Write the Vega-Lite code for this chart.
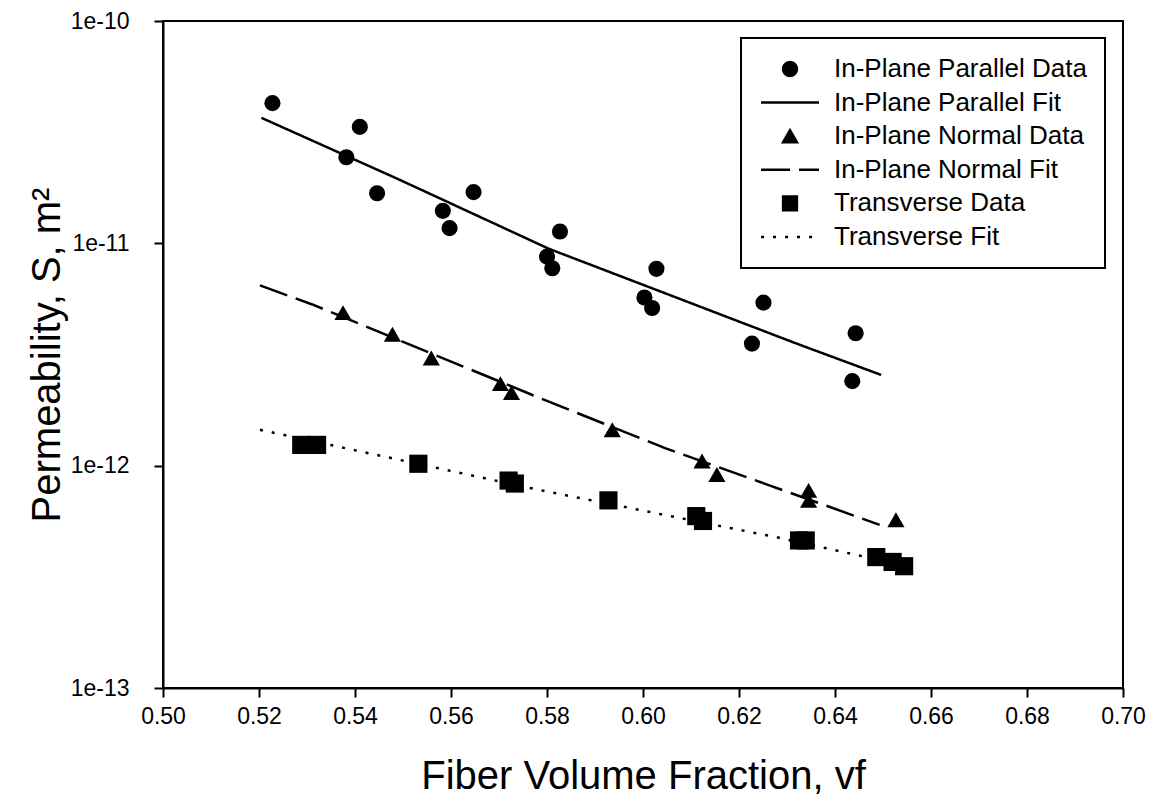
{
  "$schema": "https://vega.github.io/schema/vega-lite/v6.json",
  "width": 960,
  "height": 667,
  "autosize": {"type": "none"},
  "padding": {"left": 163, "top": 21, "right": 33, "bottom": 123},
  "background": "white",
  "config": {
    "font": "Liberation Sans",
    "view": {"stroke": "black", "strokeWidth": 2},
    "axis": {
      "domainColor": "black", "domainWidth": 2, "tickColor": "black", "tickWidth": 2, "tickSize": 9,
      "labelColor": "black", "titleColor": "black", "labelFont": "Liberation Sans", "titleFont": "Liberation Sans",
      "labelFontSize": 23, "titleFontSize": 40, "titleFontWeight": "normal", "grid": false
    },
    "legend": {
      "orient": "none", "legendX": 578, "legendY": 17,
      "strokeColor": "black", "strokeWidth": 2, "fillColor": "white", "padding": 18,
      "labelFont": "Liberation Sans", "labelFontSize": 26, "labelColor": "black", "labelLimit": 500,
      "symbolSize": 190, "symbolStrokeWidth": 2.5, "symbolStrokeColor": "black", "symbolFillColor": "black",
      "rowPadding": 7.6, "symbolOffset": 18, "labelOffset": 31
    }
  },
  "datasets": {
    "points": [
      {"x": 0.5228, "y": 4.27e-11, "series": "In-Plane Parallel Data"},
      {"x": 0.5382, "y": 2.44e-11, "series": "In-Plane Parallel Data"},
      {"x": 0.5410, "y": 3.34e-11, "series": "In-Plane Parallel Data"},
      {"x": 0.5446, "y": 1.68e-11, "series": "In-Plane Parallel Data"},
      {"x": 0.5583, "y": 1.40e-11, "series": "In-Plane Parallel Data"},
      {"x": 0.5597, "y": 1.17e-11, "series": "In-Plane Parallel Data"},
      {"x": 0.5647, "y": 1.70e-11, "series": "In-Plane Parallel Data"},
      {"x": 0.5800, "y": 8.71e-12, "series": "In-Plane Parallel Data"},
      {"x": 0.5811, "y": 7.73e-12, "series": "In-Plane Parallel Data"},
      {"x": 0.5827, "y": 1.13e-11, "series": "In-Plane Parallel Data"},
      {"x": 0.6003, "y": 5.71e-12, "series": "In-Plane Parallel Data"},
      {"x": 0.6019, "y": 5.12e-12, "series": "In-Plane Parallel Data"},
      {"x": 0.6028, "y": 7.68e-12, "series": "In-Plane Parallel Data"},
      {"x": 0.6227, "y": 3.54e-12, "series": "In-Plane Parallel Data"},
      {"x": 0.6251, "y": 5.41e-12, "series": "In-Plane Parallel Data"},
      {"x": 0.6436, "y": 2.40e-12, "series": "In-Plane Parallel Data"},
      {"x": 0.6443, "y": 3.94e-12, "series": "In-Plane Parallel Data"},
      {"x": 0.5375, "y": 4.88e-12, "series": "In-Plane Normal Data"},
      {"x": 0.5478, "y": 3.90e-12, "series": "In-Plane Normal Data"},
      {"x": 0.5559, "y": 3.05e-12, "series": "In-Plane Normal Data"},
      {"x": 0.5703, "y": 2.34e-12, "series": "In-Plane Normal Data"},
      {"x": 0.5726, "y": 2.13e-12, "series": "In-Plane Normal Data"},
      {"x": 0.5936, "y": 1.45e-12, "series": "In-Plane Normal Data"},
      {"x": 0.6123, "y": 1.05e-12, "series": "In-Plane Normal Data"},
      {"x": 0.6154, "y": 9.13e-13, "series": "In-Plane Normal Data"},
      {"x": 0.6345, "y": 7.74e-13, "series": "In-Plane Normal Data"},
      {"x": 0.6345, "y": 6.98e-13, "series": "In-Plane Normal Data"},
      {"x": 0.6527, "y": 5.71e-13, "series": "In-Plane Normal Data"},
      {"x": 0.5288, "y": 1.24e-12, "series": "Transverse Data"},
      {"x": 0.5321, "y": 1.24e-12, "series": "Transverse Data"},
      {"x": 0.5532, "y": 1.02e-12, "series": "Transverse Data"},
      {"x": 0.5720, "y": 8.57e-13, "series": "Transverse Data"},
      {"x": 0.5733, "y": 8.31e-13, "series": "Transverse Data"},
      {"x": 0.5928, "y": 6.98e-13, "series": "Transverse Data"},
      {"x": 0.6111, "y": 5.93e-13, "series": "Transverse Data"},
      {"x": 0.6125, "y": 5.64e-13, "series": "Transverse Data"},
      {"x": 0.6325, "y": 4.61e-13, "series": "Transverse Data"},
      {"x": 0.6339, "y": 4.61e-13, "series": "Transverse Data"},
      {"x": 0.6486, "y": 3.88e-13, "series": "Transverse Data"},
      {"x": 0.6520, "y": 3.69e-13, "series": "Transverse Data"},
      {"x": 0.6544, "y": 3.53e-13, "series": "Transverse Data"}
    ],
    "fits": [
      {"x": 0.5205, "y": 3.67e-11, "series": "In-Plane Parallel Fit"},
      {"x": 0.5491, "y": 1.94e-11, "series": "In-Plane Parallel Fit"},
      {"x": 0.5803, "y": 9.47e-12, "series": "In-Plane Parallel Fit"},
      {"x": 0.6323, "y": 3.52e-12, "series": "In-Plane Parallel Fit"},
      {"x": 0.6496, "y": 2.56e-12, "series": "In-Plane Parallel Fit"},
      {"x": 0.5202, "y": 6.47e-12, "series": "In-Plane Normal Fit"},
      {"x": 0.5311, "y": 5.31e-12, "series": "In-Plane Normal Fit"},
      {"x": 0.5796, "y": 1.97e-12, "series": "In-Plane Normal Fit"},
      {"x": 0.6046, "y": 1.20e-12, "series": "In-Plane Normal Fit"},
      {"x": 0.6493, "y": 5.42e-13, "series": "In-Plane Normal Fit"},
      {"x": 0.5202, "y": 1.45e-12, "series": "Transverse Fit"},
      {"x": 0.5776, "y": 7.84e-13, "series": "Transverse Fit"},
      {"x": 0.6281, "y": 4.75e-13, "series": "Transverse Fit"},
      {"x": 0.6541, "y": 3.57e-13, "series": "Transverse Fit"}
    ]
  },
  "encoding": {
    "x": {
      "field": "x", "type": "quantitative",
      "scale": {"domain": [0.5, 0.7], "nice": false, "zero": false},
      "axis": {
        "title": "Fiber Volume Fraction, vf",
        "values": [0.5, 0.52, 0.54, 0.56, 0.58, 0.6, 0.62, 0.64, 0.66, 0.68, 0.7],
        "format": ".2f", "labelPadding": 8, "titlePadding": 28, "labelFlush": false
      }
    },
    "y": {
      "field": "y", "type": "quantitative",
      "scale": {"type": "log", "domain": [1e-13, 1e-10], "nice": false},
      "axis": {
        "title": "Permeability, S, m²",
        "values": [1e-13, 1e-12, 1e-11, 1e-10],
        "labelExpr": "'1e' + round(log(datum.value) / LN10)",
        "labelPadding": 25, "titlePadding": 3, "labelFlush": false
      }
    }
  },
  "layer": [
    {
      "data": {"name": "fits"},
      "mark": {"type": "line", "color": "black", "strokeWidth": 2.5},
      "encoding": {
        "strokeDash": {
          "field": "series", "type": "nominal",
          "scale": {
            "domain": ["In-Plane Parallel Data", "In-Plane Parallel Fit", "In-Plane Normal Data", "In-Plane Normal Fit", "Transverse Data", "Transverse Fit"],
            "range": [[1, 0], [1, 0], [1, 0], [29, 9], [1, 0], [3, 9]]
          },
          "legend": {
            "title": null,
            "encode": {"symbols": {"update": {"stroke": {"value": "black"}, "strokeWidth": {"value": 2.5}, "fill": {"value": "black"}, "opacity": {"value": 1}, "size": {"value": 190}}}}
          }
        }
      }
    },
    {
      "data": {"name": "points"},
      "mark": {"type": "point", "filled": true, "color": "black", "opacity": 1},
      "encoding": {
        "shape": {
          "field": "series", "type": "nominal",
          "scale": {
            "domain": ["In-Plane Parallel Data", "In-Plane Parallel Fit", "In-Plane Normal Data", "In-Plane Normal Fit", "Transverse Data", "Transverse Fit"],
            "range": ["circle", "M-4.2,0H4.2", "triangle-up", "M-4.2,0H4.2", "square", "M-4.2,0H4.2"]
          },
          "legend": {
            "title": null,
            "encode": {"symbols": {"update": {"stroke": {"value": "black"}, "strokeWidth": {"value": 2.5}, "fill": {"value": "black"}, "opacity": {"value": 1}, "size": {"value": 190}}}}
          }
        },
        "strokeDash": {
          "field": "series", "type": "nominal",
          "scale": {
            "domain": ["In-Plane Parallel Data", "In-Plane Parallel Fit", "In-Plane Normal Data", "In-Plane Normal Fit", "Transverse Data", "Transverse Fit"],
            "range": [[1, 0], [1, 0], [1, 0], [29, 9], [1, 0], [3, 9]]
          },
          "legend": {
            "title": null,
            "encode": {"symbols": {"update": {"stroke": {"value": "black"}, "strokeWidth": {"value": 2.5}, "fill": {"value": "black"}, "opacity": {"value": 1}, "size": {"value": 190}}}}
          }
        },
        "size": {
          "field": "series", "type": "nominal",
          "scale": {"domain": ["In-Plane Parallel Data", "In-Plane Normal Data", "Transverse Data"], "range": [260, 330, 290]},
          "legend": null
        }
      }
    }
  ]
}
